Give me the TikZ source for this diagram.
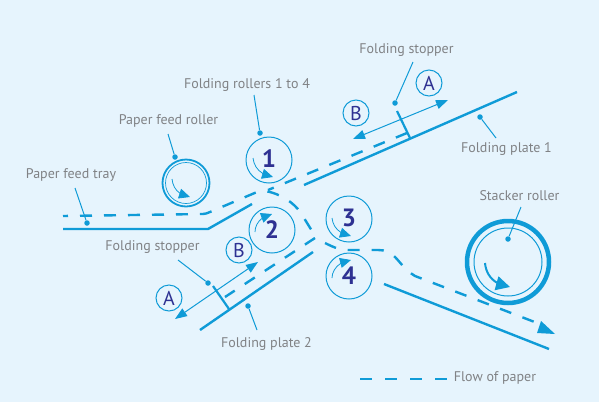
\documentclass[tikz,border=0pt]{standalone}
\usepackage{fontspec}
\setmainfont{PT Sans}
\usetikzlibrary{arrows.meta,bending}
\definecolor{bgc}{HTML}{E6F4FD}
\definecolor{blu}{HTML}{0F9BD7}
\definecolor{txt}{HTML}{808285}
\definecolor{dark}{HTML}{2E3192}
\tikzset{
  lab/.style={text=txt,font=\fontsize{14}{16}\selectfont,inner sep=0pt,anchor=center},
  plate/.style={draw=blu,line width=2.4pt},
  flow/.style={draw=blu,line width=2.4pt,dash pattern=on 12pt off 12pt},
  roller/.style={circle,draw=blu,line width=1pt,minimum size=46pt,inner sep=0pt,text=dark,font=\fontsize{25}{27}\selectfont\bfseries},
  letter/.style={circle,draw=blu,line width=1pt,minimum size=26pt,inner sep=0pt,text=dark,font=\fontsize{20}{22}\selectfont},
  leader/.style={draw=blu,line width=1pt},
  dotn/.style={circle,fill=blu,inner sep=0pt,minimum size=5.5pt},
  rot/.style={draw=blu,line width=.8pt,-{Triangle[length=11pt,width=10pt,flex=.8]}},
  dbl/.style={draw=blu,line width=1pt,{Triangle[length=12pt,width=9pt]}-{Triangle[length=12pt,width=9pt]}},
  stopper/.style={draw=blu,line width=2.2pt}
}
\begin{document}
\begin{tikzpicture}[x=1pt,y=-1pt]
\useasboundingbox[fill=bgc] (0,0) rectangle (599,402);
% rollers
\node[roller] (r1) at (269,160) {\raisebox{3pt}{1}};
\node[roller] (r2) at (272,230) {\raisebox{-3pt}{2}};
\node[roller] (r3) at (349,219) {\raisebox{3pt}{3}};
\node[roller] (r4) at (349,276) {\raisebox{-3pt}{4}};
\node[circle,draw=blu,line width=1.8pt,minimum size=47pt,inner sep=0pt] (feed) at (186,183) {};
\node[circle,draw=blu,line width=.7pt,minimum size=41pt,inner sep=0pt] (feedin) at (186,183) {};
\node[circle,draw=blu,line width=4.5pt,minimum size=82pt,inner sep=0pt] (stack) at (508,262) {};
\node[circle,draw=blu,line width=1pt,minimum size=68pt,inner sep=0pt] (stackin) at (508,262) {};
% rotation arrows
\draw[rot] (253,158) .. controls (254,167) and (260,175) .. (273,177);
\draw[rot] (255,232) .. controls (255,224) and (261,216) .. (272,214);
\draw[rot] (332,218) .. controls (333,227) and (339,234) .. (351,236);
\draw[rot] (332,278) .. controls (332,270) and (339,261) .. (351,260);
\draw[rot] (172,179) .. controls (173,188) and (178,195) .. (190,197);
\draw[draw=blu,line width=2pt,-{Triangle[length=14pt,width=14pt,flex=.8]}] (485,263) .. controls (486,275) and (494,285) .. (510,287);
% plates
\coordinate (p0) at (63,229); \coordinate (p1) at (208,229); \coordinate (p2) at (252,204);
\coordinate (fa) at (304,185); \coordinate (fb) at (517,92);
\coordinate (ga) at (200,330); \coordinate (gb) at (313,252);
\coordinate (ha) at (384,284); \coordinate (hb) at (549,349);
\draw[plate] (p0) -- (p1) -- (p2);
\draw[plate] (fa) -- (fb);
\draw[plate] (ga) -- (gb);
\draw[plate] (ha) -- (hb);
% flow of paper
\coordinate (s0) at (63,216); \coordinate (s1) at (203,214); \coordinate (s2) at (257,192);
\coordinate (u1) at (407,133); \coordinate (u0) at (268,190); \coordinate (v0) at (315,238); \coordinate (v1) at (225,297);
\draw[flow,dash phase=7pt] (s0) -- (s1) .. controls (206,214) and (207,213) .. (210,212) -- (s2) .. controls (262,190) and (265,191) .. (270,192) .. controls (285,196) and (298,206) .. (304,218) -- (312,231);
\draw[flow] (u1) -- (u0);
\draw[flow] (v0) -- (v1);
\draw[flow] (325,243) .. controls (335,248) and (340,250) .. (350,250) -- (378,250) .. controls (385,250) and (390,252) .. (395,257) .. controls (400,262) and (405,270) .. (415,276) -- (545,326);
\fill[blu] (555,334) -- (537,333) -- (541,321) -- cycle;
% stoppers
\coordinate (sa) at (397,111); \coordinate (sb) at (410,138);
\coordinate (ta) at (213,286); \coordinate (tb) at (229,309);
\draw[stopper] (sa) -- (sb);
\draw[stopper] (ta) -- (tb);
% double arrows
\coordinate (da) at (175,319); \coordinate (db) at (258,262);
\coordinate (ea) at (353,139); \coordinate (eb) at (448,100);
\draw[dbl] (da) -- (db);
\draw[dbl] (ea) -- (eb);
% letters
\node[letter] (A1) at (169,298) {A};
\node[letter] (B1) at (239,250) {B};
\node[letter] (B2) at (356,113) {B};
\node[letter] (A2) at (429,83) {A};
% labels
\node[lab] (t1) at (71,175) {Paper feed tray};
\node[lab] (t2) at (168.5,121) {Paper feed roller};
\node[lab] (t3) at (247,85) {Folding rollers 1 to 4};
\node[lab] (t4) at (406.5,50) {Folding stopper};
\node[lab] (t5) at (506.5,149) {Folding plate 1};
\node[lab] (t6) at (519.5,196) {Stacker roller};
\node[lab] (t7) at (152.5,247) {Folding stopper};
\node[lab] (t8) at (266.5,344) {Folding plate 2};
\node[lab] (t9) at (495,378) {Flow of paper};
% leaders
\node[dotn] (d1) at (87,223) {};
\node[dotn] (d2) at (175,157) {};
\node[dotn] (d3) at (260,133) {};
\node[dotn] (d4) at (395,103) {};
\node[dotn] (d5) at (480,117) {};
\node[dotn] (d6) at (508,239) {};
\node[dotn] (d7) at (208,283) {};
\node[dotn] (d8) at (248,306) {};
\coordinate (l1) at (75,188); \coordinate (l2) at (168,134); \coordinate (l3) at (254,95);
\coordinate (l4) at (413,62); \coordinate (l5) at (496,138); \coordinate (l6) at (521,207);
\coordinate (l7) at (178,260); \coordinate (l8) at (257,330);
\draw[leader] (l1) -- (d1);
\draw[leader] (l2) -- (d2);
\draw[leader] (l3) -- (d3);
\draw[leader] (l4) -- (d4);
\draw[leader] (l5) -- (d5);
\draw[leader] (l6) -- (d6);
\draw[leader] (l7) -- (d7);
\draw[leader] (l8) -- (d8);
% legend
\coordinate (k0) at (360,379); \coordinate (k1) at (447,379);
\draw[flow,dash pattern=on 12pt off 13pt] (k0) -- (k1);
\end{tikzpicture}
\end{document}
